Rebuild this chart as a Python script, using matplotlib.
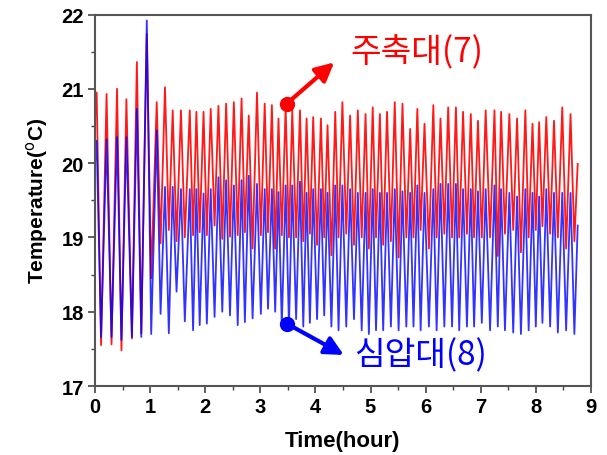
import numpy as np
import matplotlib
matplotlib.use('Agg')
import matplotlib.pyplot as plt
from matplotlib.ticker import MultipleLocator

plt.rcParams['font.family'] = ['Liberation Sans', 'Noto Sans CJK KR', 'DejaVu Sans']

# peak / trough times (hour)
t_hi = [0.03, 0.21, 0.40, 0.57, 0.76, 0.94, 1.12, 1.27, 1.41, 1.56,
        1.72, 1.84, 1.97, 2.10, 2.24, 2.38, 2.52, 2.66, 2.79, 2.94, 3.08, 3.21, 3.33,
        3.46,
        3.58, 3.72, 3.84, 3.96, 4.10, 4.22, 4.36, 4.49, 4.63, 4.77, 4.91, 5.04, 5.17,
        5.30, 5.44, 5.58, 5.72, 5.85, 5.98, 6.14, 6.27, 6.41, 6.55, 6.68, 6.82, 6.95,
        7.09, 7.25, 7.37, 7.52, 7.66, 7.81, 7.94, 8.06, 8.19, 8.33, 8.48, 8.63]
t_lo = [0.11, 0.30, 0.48, 0.67, 0.84, 1.02, 1.19, 1.34, 1.48, 1.63,
        1.78, 1.90, 2.03, 2.17, 2.31, 2.45, 2.59, 2.72, 2.86, 3.01, 3.14, 3.27, 3.39,
        3.52,
        3.65, 3.78, 3.90, 4.03, 4.16, 4.29, 4.42, 4.56, 4.70, 4.84, 4.97, 5.10, 5.23,
        5.37, 5.51, 5.65, 5.78, 5.91, 6.06, 6.20, 6.34, 6.48, 6.61, 6.75, 6.88, 7.02,
        7.17, 7.31, 7.44, 7.59, 7.73, 7.87, 8.00, 8.12, 8.26, 8.40, 8.55, 8.70]
t_start, t_end = 0.0, 8.76

# 주축대(7) - red
red_hi = [20.95, 20.93, 21.00, 20.86, 21.36, 21.74, 20.82, 21.02, 20.71, 20.71,
          20.71, 20.69, 20.69, 20.73, 20.77, 20.80, 20.82, 20.87, 20.64, 20.95, 20.80, 20.78, 20.60,
          20.75,
          20.71, 20.71, 20.60, 20.62, 20.60, 20.51, 20.69, 20.82, 20.64, 20.71, 20.66, 20.75, 20.66,
          20.69, 20.82, 20.80, 20.46, 20.73, 20.53, 20.78, 20.60, 20.75, 20.75, 20.69, 20.66, 20.57,
          20.71, 20.71, 20.69, 20.66, 20.60, 20.71, 20.53, 20.55, 20.62, 20.57, 20.75, 20.66]
red_lo = [17.55, 17.56, 17.48, 17.64, 17.71, 18.45, 18.92, 19.10, 18.95, 19.00,
          19.03, 19.07, 19.03, 19.16, 18.98, 19.01, 19.03, 19.07, 18.85, 19.03, 19.07, 18.85, 19.03,
          19.00,
          19.00, 18.95, 19.05, 18.90, 19.00, 18.76, 19.00, 19.05, 18.90, 19.00, 18.85, 19.00, 18.90,
          18.95, 18.73, 19.00, 19.00, 19.10, 18.85, 19.00, 19.05, 19.00, 19.00, 19.05, 19.00, 19.00,
          19.00, 18.75, 19.05, 19.10, 18.80, 19.00, 19.10, 19.15, 19.05, 19.00, 18.85, 18.95]
red_start, red_end = 20.6, 19.99

# 심압대(8) - blue
blue_hi = [20.30, 20.32, 20.35, 20.35, 20.73, 21.92, 20.44, 19.68, 19.68, 19.65,
           19.65, 19.65, 19.59, 19.65, 19.81, 19.77, 19.70, 19.77, 19.83, 19.72, 19.65, 19.65, 19.61,
           19.70,
           19.70, 19.75, 19.60, 19.65, 19.65, 19.60, 19.70, 19.70, 19.65, 19.60, 19.60, 19.65, 19.60,
           19.60, 19.65, 19.62, 19.60, 19.70, 19.60, 19.65, 19.72, 19.72, 19.72, 19.65, 19.65, 19.62,
           19.65, 19.70, 19.65, 19.60, 19.55, 19.65, 19.60, 19.55, 19.65, 19.60, 19.60, 19.60]
blue_lo = [17.66, 17.66, 17.62, 17.66, 17.66, 17.70, 17.97, 17.71, 18.27, 17.87,
           17.75, 17.82, 17.84, 17.93, 18.00, 17.95, 17.82, 17.86, 17.91, 17.97, 18.04, 18.00, 17.82,
           17.80,
           17.90, 17.80, 17.85, 17.90, 17.95, 17.80, 17.75, 17.80, 17.90, 17.75, 17.70, 17.75, 17.75,
           17.80, 17.75, 17.80, 17.80, 17.75, 17.80, 17.75, 17.80, 17.80, 17.75, 17.80, 17.80, 17.85,
           17.75, 17.80, 17.75, 17.72, 17.70, 17.75, 17.80, 17.85, 17.80, 17.72, 17.75, 17.70]
blue_start, blue_end = 20.0, 19.16


def zigzag(hi, lo, y0, y1):
    # alternate peak and trough readings into one trace
    t = [t_start]
    y = [y0]
    for th, tl, vh, vl in zip(t_hi, t_lo, hi, lo):
        t += [th, tl]
        y += [vh, vl]
    t.append(t_end)
    y.append(y1)
    return t, y


fig = plt.figure(figsize=(6.07, 4.56), dpi=100)
ax = fig.add_axes([0.1565, 0.1513, 0.817, 0.8147])

tr, yr = zigzag(red_hi, red_lo, red_start, red_end)
tb, yb = zigzag(blue_hi, blue_lo, blue_start, blue_end)
ax.plot(tr, yr, color='#ff0000', lw=1.3, alpha=0.9)
ax.plot(tb, yb, color='#0000ff', lw=1.3, alpha=0.8)

ax.set_xlim(0, 9)
ax.set_ylim(17, 22)
ax.xaxis.set_major_locator(MultipleLocator(1))
ax.xaxis.set_minor_locator(MultipleLocator(0.5))
ax.yaxis.set_major_locator(MultipleLocator(1))
ax.yaxis.set_minor_locator(MultipleLocator(0.5))
ax.tick_params(which='major', direction='out', length=5, width=1.2, color='#444444',
               labelsize=14.5, pad=3)
ax.tick_params(which='minor', direction='out', length=3, width=1.0, color='#444444')
for lab in ax.get_xticklabels() + ax.get_yticklabels():
    lab.set_fontweight('bold')
for sp in ax.spines.values():
    sp.set_color('#555555')
    sp.set_linewidth(1.5)

ax.set_xlabel('Time(hour)', fontsize=16, fontweight='bold', labelpad=10)
ax.set_ylabel(r'Temperature($^{\mathrm{o}}$C)', fontsize=15, fontweight='bold', labelpad=8)

# annotations with dot + arrow
ax.plot([3.48], [20.80], 'o', color='#ff0000', ms=10, zorder=5)
ax.annotate('', xy=(4.38, 21.38), xytext=(3.48, 20.80),
            arrowprops=dict(arrowstyle='-|>', color='#ff0000', lw=3, mutation_scale=28))
ax.text(4.64, 21.50, '주축대(7)', color='#ff0000', fontsize=24, va='center', ha='left',
        family=['Noto Sans CJK KR', 'DejaVu Sans'])

ax.plot([3.48], [17.84], 'o', color='#0000ff', ms=10, zorder=5)
ax.annotate('', xy=(4.56, 17.40), xytext=(3.48, 17.84),
            arrowprops=dict(arrowstyle='-|>', color='#0000ff', lw=3, mutation_scale=28))
ax.text(4.70, 17.42, '심압대(8)', color='#0000ff', fontsize=24, va='center', ha='left',
        family=['Noto Sans CJK KR', 'DejaVu Sans'])

fig.savefig('out.png', dpi=100)
